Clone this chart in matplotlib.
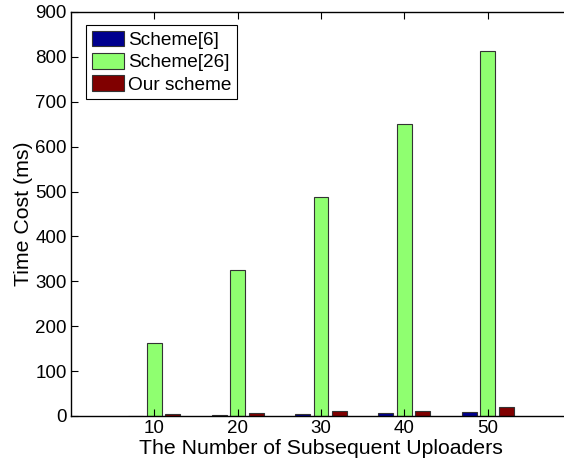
import numpy as np
import matplotlib.pyplot as plt

plt.rcParams['font.family'] = ['Liberation Sans', 'DejaVu Sans']

uploaders = [10, 20, 30, 40, 50]
scheme6 = [1, 3, 5, 6, 8]
scheme26 = [162, 325, 488, 651, 813]
ours = [4, 6, 12, 12, 19]

series = [("Scheme[6]", scheme6, "#00008F"),
          ("Scheme[26]", scheme26, "#8FFF70"),
          ("Our scheme", ours, "#800000")]

fig = plt.figure(figsize=(5.64, 4.63), dpi=100)
ax = fig.add_axes([71 / 564, 1 - 416 / 463, 500 / 564, 404 / 463])

idx = np.arange(1, len(uploaders) + 1)
step = 0.222
for k, (name, vals, col) in enumerate(series):
    ax.bar(idx + (k - 1) * step, vals, width=0.178, color=col,
           edgecolor="#333333", linewidth=0.8, label=name)

ax.set_xlim(0, 6)
ax.set_ylim(0, 900)
ax.set_xticks(idx)
ax.set_xticklabels([str(u) for u in uploaders])
ax.set_yticks(range(0, 901, 100))
ax.tick_params(direction="in", top=True, right=False, labelsize=13.5,
               length=5, pad=3)
for s in ax.spines.values():
    s.set_linewidth(1.0)
ax.spines["right"].set_visible(False)

ax.set_xlabel("The Number of Subsequent Uploaders", fontsize=15.3, labelpad=1)
ax.set_ylabel("Time Cost (ms)", fontsize=15.3, labelpad=2)

leg = ax.legend(loc="upper left", bbox_to_anchor=(0.03, 0.968), fontsize=13.7,
                fancybox=False, framealpha=1, edgecolor="black",
                handlelength=1.7, handleheight=0.9, handletextpad=0.2,
                labelspacing=0.2, borderpad=0.3, borderaxespad=0)
leg.get_frame().set_linewidth(0.8)

plt.savefig("out.png", dpi=100)
